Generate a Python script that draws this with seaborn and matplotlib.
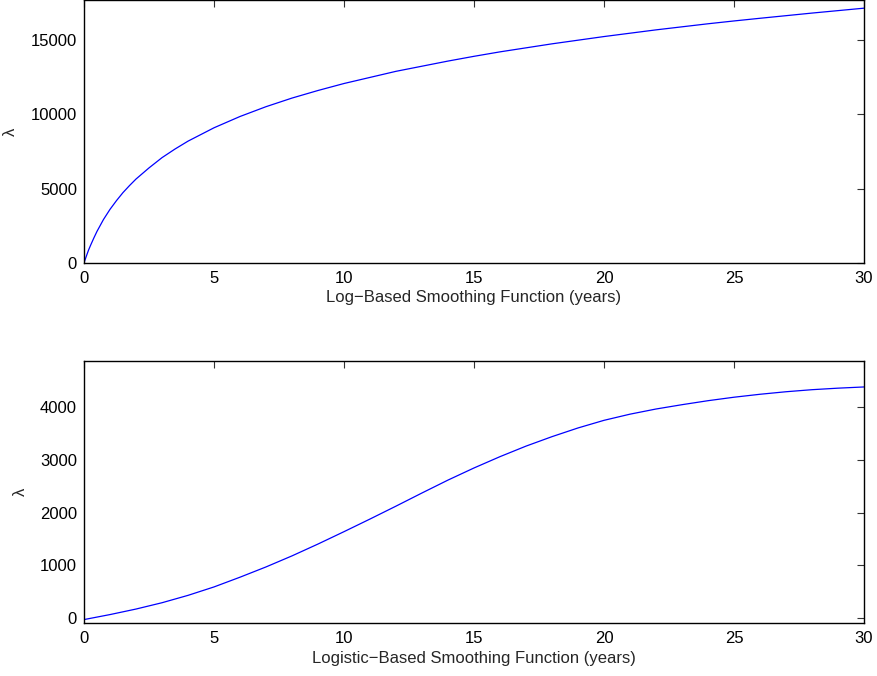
import matplotlib
matplotlib.use("Agg")
import matplotlib.pyplot as plt
import seaborn as sns
import pandas as pd

# Top panel: log-based smoothing function
log_years = [0, 0.05, 0.1, 0.175, 0.25, 0.375, 0.5, 0.75, 1, 1.25, 1.5, 1.75,
             2, 2.5, 3, 3.5, 4, 5, 6, 7, 8, 9, 10, 12, 14, 15, 16, 18, 20,
             22, 24, 25, 26, 28, 30]
log_lambda = [0, 260, 510, 870, 1180, 1670, 2130, 2930, 3610, 4200, 4740,
              5210, 5650, 6400, 7090, 7670, 8200, 9100, 9860, 10520, 11100,
              11610, 12080, 12900, 13590, 13910, 14210, 14750, 15240, 15690,
              16100, 16290, 16470, 16820, 17150]

# Bottom panel: logistic-based smoothing function
logi_years = list(range(0, 31))
logi_lambda = [-30, 65, 170, 290, 430, 590, 775, 970, 1180, 1405, 1640, 1880,
               2125, 2375, 2620, 2850, 3065, 3265, 3445, 3610, 3755, 3872,
               3970, 4052, 4128, 4194, 4250, 4298, 4337, 4366, 4389]

top_xlabel = "Log\u2212Based Smoothing Function (years)"
bottom_xlabel = "Logistic\u2212Based Smoothing Function (years)"
ylabel = "\u03bb"
x_ticks = [0, 5, 10, 15, 20, 25, 30]
top_yticks = [0, 5000, 10000, 15000]
bottom_yticks = [0, 1000, 2000, 3000, 4000]

sns.set_style("white")
plt.rcParams["font.family"] = ["Liberation Sans", "DejaVu Sans"]

W, H = 878, 676
fig = plt.figure(figsize=(W / 100, H / 100), dpi=100)
left = 84 / W
width = 780 / W
ax1 = fig.add_axes([left, 1 - 263 / H, width, 263 / H])
ax2 = fig.add_axes([left, 1 - 623 / H, width, 262 / H])

df1 = pd.DataFrame({"t": log_years, "lam": log_lambda})
df2 = pd.DataFrame({"t": logi_years, "lam": logi_lambda})

sns.lineplot(data=df1, x="t", y="lam", ax=ax1, color=(0, 0, 1), linewidth=0.9)
sns.lineplot(data=df2, x="t", y="lam", ax=ax2, color=(0, 0, 1), linewidth=0.9)

for ax, xl, yt, ylim in [(ax1, top_xlabel, top_yticks, (0, 17700)),
                         (ax2, bottom_xlabel, bottom_yticks, (-95, 4882))]:
    ax.set_xlim(0, 30)
    ax.set_ylim(*ylim)
    ax.set_xticks(x_ticks)
    ax.set_yticks(yt)
    ax.set_xticklabels([str(v) for v in x_ticks])
    ax.set_yticklabels([str(v) for v in yt])
    ax.set_xlabel(xl, fontsize=12, labelpad=3)
    ax.set_ylabel(ylabel, fontsize=12, labelpad=9)
    ax.tick_params(direction="in", top=True, right=True, length=5, width=0.8,
                   color="#333333", labelsize=12, labelcolor="black")
    ax.tick_params(axis="x", pad=6)
    ax.tick_params(axis="y", pad=5)
    for s in ax.spines.values():
        s.set_visible(True)
        s.set_color("black")
        s.set_linewidth(1.0)
    ax.grid(False)

fig.savefig("out.png", dpi=100)
